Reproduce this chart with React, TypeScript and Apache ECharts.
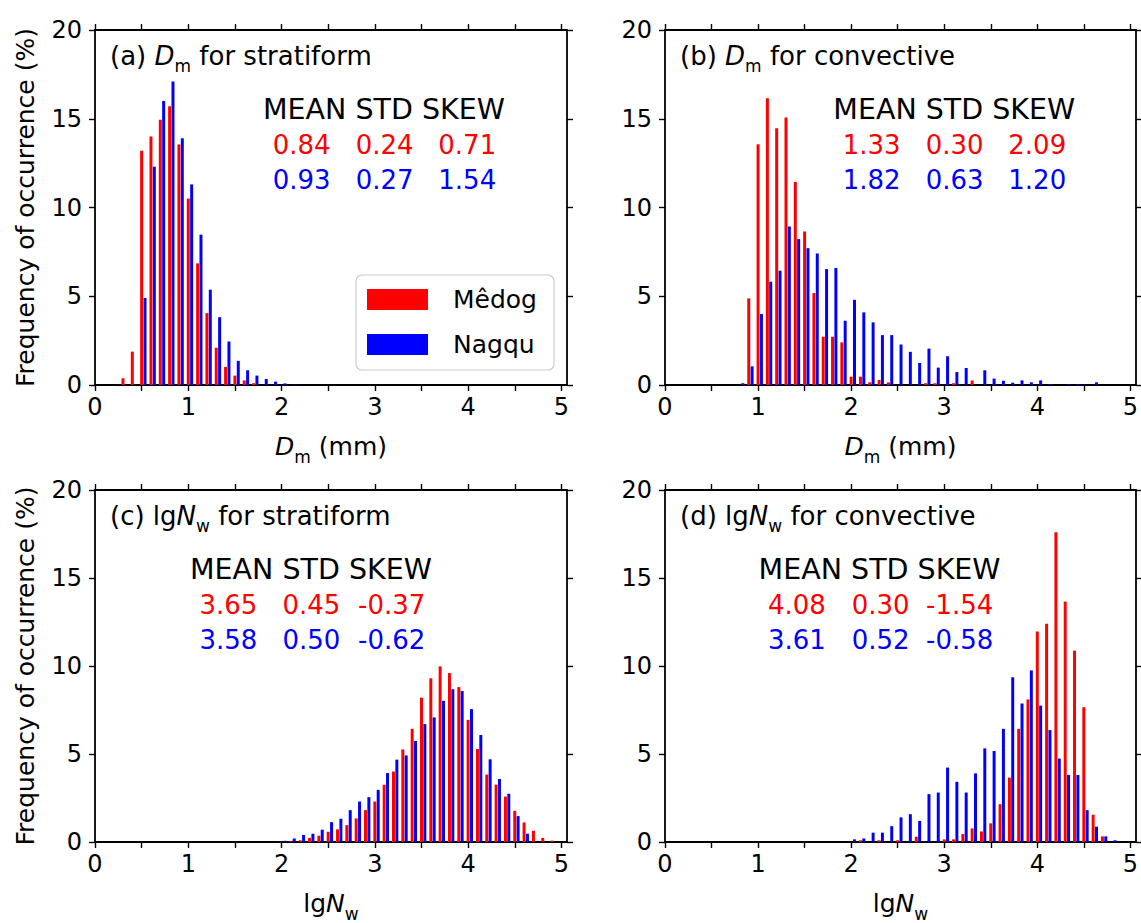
import React, { useEffect, useRef } from "react";
import * as echarts from "echarts";

// ---------- data (frequency of occurrence, %) ----------
const dmStratBins = [0.3, 0.4, 0.5, 0.6, 0.7, 0.8, 0.9, 1.0, 1.1, 1.2, 1.3, 1.4, 1.5, 1.6, 1.7, 1.8, 1.9, 2.0, 2.1];
const dmStratMedog = [0.38, 1.88, 13.2, 14.0, 14.95, 15.7, 13.55, 10.5, 6.85, 4.05, 2.1, 1.02, 0.53, 0.26, 0.1, 0, 0, 0, 0];
const dmStratNagqu = [0, 0, 4.9, 12.3, 16.0, 17.1, 13.9, 11.3, 8.47, 5.37, 3.82, 2.45, 1.36, 0.83, 0.53, 0.34, 0.19, 0.09, 0.03];

const dmConvBins = [0.8, 0.9, 1.0, 1.1, 1.2, 1.3, 1.4, 1.5, 1.6, 1.7, 1.8, 1.9, 2.0, 2.1, 2.2, 2.3, 2.4, 2.5, 2.6, 2.7, 2.8, 2.9, 3.0, 3.1, 3.2, 3.3, 3.4, 3.5, 3.6, 3.7, 3.8, 3.9, 4.0, 4.1, 4.2, 4.3, 4.4, 4.5, 4.6];
const dmConvMedog = [0, 4.88, 13.56, 16.15, 14.47, 15.07, 11.44, 8.65, 5.18, 2.72, 2.72, 2.4, 0.47, 0.47, 0.15, 0.28, 0.15, 0, 0, 0, 0.1, 0.1, 0, 0.1, 0, 0.25, 0, 0, 0, 0, 0, 0, 0, 0, 0, 0, 0, 0, 0];
const dmConvNagqu = [0.1, 1.05, 4.0, 5.82, 6.44, 8.93, 8.22, 7.71, 7.41, 6.53, 6.59, 3.62, 4.8, 4.09, 3.53, 2.81, 2.81, 2.28, 1.87, 1.24, 2.05, 0.98, 1.62, 0.73, 0.96, 0, 0.83, 0.36, 0.24, 0.13, 0.26, 0.15, 0.26, 0.05, 0, 0.05, 0.05, 0, 0.15];

const nwStratBins = [2.0, 2.1, 2.2, 2.3, 2.4, 2.5, 2.6, 2.7, 2.8, 2.9, 3.0, 3.1, 3.2, 3.3, 3.4, 3.5, 3.6, 3.7, 3.8, 3.9, 4.0, 4.1, 4.2, 4.3, 4.4, 4.5, 4.6, 4.7, 4.8, 4.9];
const nwStratMedog = [0, 0.05, 0.1, 0.23, 0.36, 0.58, 0.72, 0.96, 1.34, 1.81, 2.3, 3.25, 4.0, 5.26, 6.43, 8.2, 9.3, 9.98, 9.6, 8.8, 6.94, 5.28, 3.83, 3.26, 2.58, 1.77, 1.11, 0.64, 0.23, 0.08];
const nwStratNagqu = [0.07, 0.2, 0.4, 0.47, 0.7, 1.13, 1.32, 1.81, 2.3, 2.55, 2.96, 3.92, 4.68, 4.92, 5.74, 6.7, 7.08, 8.02, 8.68, 8.58, 7.55, 6.08, 4.7, 3.58, 2.74, 1.47, 0.47, 0, 0, 0];

const nwConvBins = [2.0, 2.1, 2.2, 2.3, 2.4, 2.5, 2.6, 2.7, 2.8, 2.9, 3.0, 3.1, 3.2, 3.3, 3.4, 3.5, 3.6, 3.7, 3.8, 3.9, 4.0, 4.1, 4.2, 4.3, 4.4, 4.5, 4.6, 4.7, 4.8];
const nwConvMedog = [0, 0.1, 0, 0.1, 0, 0.1, 0, 0.3, 0, 0, 0.15, 0.15, 0.45, 0.77, 0.6, 1.06, 2.15, 3.66, 6.43, 8.1, 11.96, 12.4, 17.6, 13.66, 10.87, 7.66, 1.55, 0.32, 0];
const nwConvNagqu = [0.15, 0.2, 0.53, 0.53, 0.9, 1.4, 1.58, 1.2, 2.72, 2.81, 4.23, 3.42, 2.81, 3.9, 5.32, 5.17, 6.43, 9.36, 7.87, 9.75, 7.75, 6.36, 4.74, 3.81, 3.81, 1.81, 0.87, 0.32, 0.1];

// ---------- ticks ----------
const xMajorTicks = [0, 1, 2, 3, 4, 5];
const xMinorTicks = [0, 0.5, 1, 1.5, 2, 2.5, 3, 3.5, 4, 4.5, 5];
const yTicks = [0, 5, 10, 15, 20];

// ---------- statistics text ----------
const statHeader = "MEAN STD SKEW";
const statsAMedog = ["0.84", "0.24", "0.71"];
const statsANagqu = ["0.93", "0.27", "1.54"];
const statsBMedog = ["1.33", "0.30", "2.09"];
const statsBNagqu = ["1.82", "0.63", "1.20"];
const statsCMedog = ["3.65", "0.45", "-0.37"];
const statsCNagqu = ["3.58", "0.50", "-0.62"];
const statsDMedog = ["4.08", "0.30", "-1.54"];
const statsDNagqu = ["3.61", "0.52", "-0.58"];

const seriesNames = ["Mêdog", "Nagqu"];

const RED = "#ff0000";
const BLUE = "#0000ff";
const FONT = "DejaVu Sans";
const BAR_HALF = 0.016;
const BLUE_OFFSET = 0.036;

const GRID_W = 472;
const GRID_H = 355;
const grids = [
  { left: 95, top: 30 },
  { left: 665, top: 30 },
  { left: 95, top: 490 },
  { left: 665, top: 490 },
];

const panels = [
  { bins: dmStratBins, medog: dmStratMedog, nagqu: dmStratNagqu, kind: "dm", title: ["(a) ", "D", "m", " for stratiform"], stats: [statsAMedog, statsANagqu], statX: 263, numX: [272.7, 355.7, 438.3] },
  { bins: dmConvBins, medog: dmConvMedog, nagqu: dmConvNagqu, kind: "dm", title: ["(b) ", "D", "m", " for convective"], stats: [statsBMedog, statsBNagqu], statX: 833.3, numX: [842.7, 925.7, 1008.3] },
  { bins: nwStratBins, medog: nwStratMedog, nagqu: nwStratNagqu, kind: "nw", title: ["(c) lg", "N", "w", " for stratiform"], stats: [statsCMedog, statsCNagqu], statX: 190, numX: [199.5, 282.5, 358] },
  { bins: nwConvBins, medog: nwConvMedog, nagqu: nwConvNagqu, kind: "nw", title: ["(d) lg", "N", "w", " for convective"], stats: [statsDMedog, statsDNagqu], statX: 758.6, numX: [768, 851.7, 926] },
];

function rich(size: number) {
  return {
    t: { fontFamily: FONT, fontSize: size, lineHeight: 37, verticalAlign: "middle", color: "#000" },
    i: { fontFamily: FONT, fontSize: size, lineHeight: 37, verticalAlign: "middle", fontStyle: "italic", color: "#000" },
    s: { fontFamily: FONT, fontSize: 17, lineHeight: 17, verticalAlign: "bottom", color: "#000" },
  };
}

function makeRender(color: string, offset: number) {
  return (params: any, api: any) => {
    const x = api.value(0);
    const v = api.value(1);
    if (!v) return { type: "group", children: [] };
    const tl = api.coord([x + offset - BAR_HALF, v]);
    const br = api.coord([x + offset + BAR_HALF, 0]);
    return {
      type: "rect",
      shape: { x: tl[0], y: tl[1], width: br[0] - tl[0], height: br[1] - tl[1] },
      style: { fill: color },
    };
  };
}

function buildOption() {
  const axisLine = { show: true, onZero: false, lineStyle: { color: "#000", width: 1.8 } };
  const tickStyle = { color: "#000", width: 1.4 };
  const xAxes: any[] = [];
  const yAxes: any[] = [];
  const series: any[] = [];
  const graphics: any[] = [];

  panels.forEach((p, gi) => {
    const g = grids[gi];
    const xName = p.kind === "dm" ? "{i|D}{s|m}{t| (mm)}" : "{t|lg}{i|N}{s|w}";
    xAxes.push({
      type: "value", gridIndex: gi, position: "bottom", min: 0, max: 5.06, interval: 0.5,
      axisLine, splitLine: { show: false },
      axisTick: { show: true, inside: false, length: 6, lineStyle: tickStyle, customValues: xMinorTicks },
      axisLabel: {
        show: true, interval: 0, margin: 10, fontFamily: FONT, fontSize: 24, color: "#000",
        customValues: xMajorTicks,
        formatter: (v: number) => (xMajorTicks.indexOf(v) >= 0 ? String(v) : ""),
      },
      name: xName, nameLocation: "middle", nameGap: 43,
      nameTextStyle: { fontFamily: FONT, fontSize: 25, lineHeight: 37, color: "#000", rich: rich(25) },
    });
    xAxes.push({
      type: "value", gridIndex: gi, position: "top", min: 0, max: 5.06, interval: 0.5,
      axisLine, splitLine: { show: false },
      axisTick: { show: true, inside: false, length: 6, lineStyle: tickStyle, customValues: xMinorTicks },
      axisLabel: { show: false },
    });
    yAxes.push({
      type: "value", gridIndex: gi, position: "left", min: 0, max: 20, interval: 5,
      axisLine, splitLine: { show: false },
      axisTick: { show: true, inside: false, length: 6, lineStyle: tickStyle, customValues: yTicks },
      axisLabel: { show: true, margin: 13, fontFamily: FONT, fontSize: 24, color: "#000", customValues: yTicks },
      name: gi % 2 === 0 ? "Frequency of occurrence (%)" : "",
      nameLocation: "middle", nameGap: 55,
      nameTextStyle: { fontFamily: FONT, fontSize: 25, lineHeight: 30, color: "#000" },
    });
    yAxes.push({
      type: "value", gridIndex: gi, position: "right", min: 0, max: 20, interval: 5,
      axisLine, splitLine: { show: false },
      axisTick: { show: true, inside: false, length: 6, lineStyle: tickStyle, customValues: yTicks },
      axisLabel: { show: false },
    });

    series.push({
      type: "custom", name: seriesNames[0], xAxisIndex: gi * 2, yAxisIndex: gi * 2,
      itemStyle: { color: RED }, clip: true,
      encode: { x: 0, y: 1 },
      data: p.bins.map((b, i) => [b, p.medog[i]]),
      renderItem: makeRender(RED, 0),
    });
    series.push({
      type: "custom", name: seriesNames[1], xAxisIndex: gi * 2, yAxisIndex: gi * 2,
      itemStyle: { color: BLUE }, clip: true,
      encode: { x: 0, y: 1 },
      data: p.bins.map((b, i) => [b, p.nagqu[i]]),
      renderItem: makeRender(BLUE, BLUE_OFFSET),
    });

    // panel title
    const [pre, it, sub, post] = p.title;
    graphics.push({
      type: "text", x: g.left + 15, y: g.top + 26, silent: true,
      style: {
        text: `{t|${pre}}{i|${it}}{s|${sub}}{t|${post}}`,
        rich: rich(26), fontFamily: FONT, fontSize: 26, fill: "#000",
        align: "left", verticalAlign: "middle",
      },
    });
    // statistics header
    graphics.push({
      type: "text", x: p.statX, y: g.top + 79.5, silent: true,
      style: { text: statHeader, fontFamily: FONT, fontSize: 28.5, fill: "#000", align: "left", verticalAlign: "middle" },
    });
    [p.stats[0], p.stats[1]].forEach((row, r) => {
      row.forEach((val, k) => {
        graphics.push({
          type: "text", x: p.numX[k], y: g.top + 115 + r * 35, silent: true,
          style: { text: val, fontFamily: FONT, fontSize: 26, fill: r === 0 ? RED : BLUE, align: "left", verticalAlign: "middle" },
        });
      });
    });
  });

  return {
    animation: false,
    backgroundColor: "#ffffff",
    grid: grids.map((g) => ({ left: g.left, top: g.top, width: GRID_W, height: GRID_H, containLabel: false })),
    xAxis: xAxes,
    yAxis: yAxes,
    legend: {
      show: true, orient: "vertical", left: 356, top: 275,
      itemWidth: 61, itemHeight: 21, itemGap: 20,
      padding: [12, 17, 13, 11],
      backgroundColor: "#ffffff", borderColor: "#cccccc", borderWidth: 1.2, borderRadius: 6,
      selectedMode: false,
      textStyle: { fontFamily: FONT, fontSize: 25, color: "#000", lineHeight: 21, padding: [0, 0, 0, 20] },
      data: [
        { name: seriesNames[0], icon: "rect", itemStyle: { color: RED } },
        { name: seriesNames[1], icon: "rect", itemStyle: { color: BLUE } },
      ],
    },
    graphic: graphics,
    series,
  };
}

export default function App() {
  const ref = useRef<HTMLDivElement>(null);
  useEffect(() => {
    if (!ref.current) return;
    const chart = echarts.init(ref.current, undefined, { renderer: "svg" });
    chart.setOption(buildOption() as any);
    return () => chart.dispose();
  }, []);
  return (
    <div
      ref={ref}
      style={{ position: "fixed", left: 0, top: 0, width: 1141, height: 923, background: "#fff" }}
    />
  );
}
